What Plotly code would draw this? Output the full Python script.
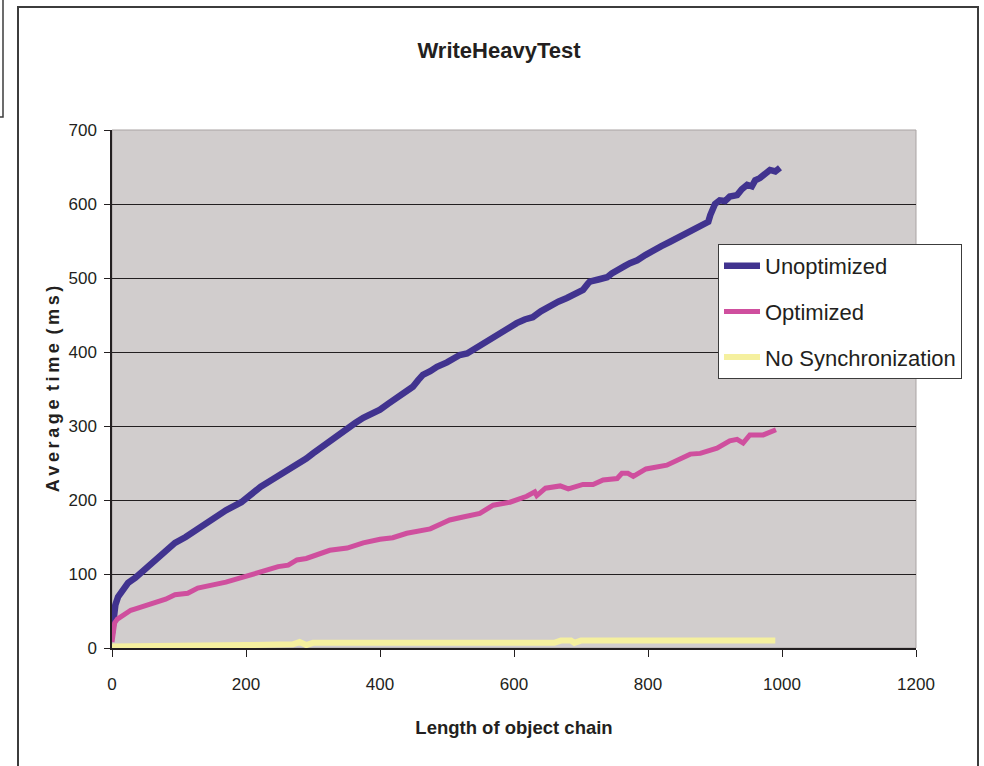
import plotly.graph_objects as go

# ---- data ----
unopt_x = [0, 2, 5, 9, 15, 24, 35, 43, 55, 69, 80, 94, 110, 124, 140, 154, 170, 193, 208, 222,
           240, 258, 276, 290, 300, 312, 325, 338, 351, 363, 375, 388, 400, 412, 425, 437, 449,
           457, 464, 475, 485, 500, 519, 530, 542, 554, 566, 579, 591, 604, 616, 628, 640, 654,
           666, 679, 690, 703, 710, 713, 726, 739, 746, 754, 765, 773, 784, 796, 808, 820, 833,
           845, 858, 870, 880, 890, 893, 896, 900, 907, 915, 922, 933, 940, 948, 955, 960, 967,
           975, 982, 990, 997]
unopt_y = [20, 45, 58, 69, 78, 88, 95, 101, 111, 123, 131, 142, 150, 159, 168, 177, 186, 197, 208, 218,
           228, 238, 247, 256, 263, 271, 281, 289, 297, 304, 311, 316, 322, 330, 338, 345, 353,
           362, 369, 374, 380, 386, 396, 398, 405, 412, 419, 426, 432, 439, 444, 447, 455, 463,
           468, 473, 478, 484, 492, 495, 498, 501, 506, 511, 516, 520, 524, 531, 538, 543, 549,
           555, 562, 568, 572, 576, 585, 595, 600, 605, 604, 610, 612, 620, 626, 624, 632, 635,
           640, 646, 644, 649]

opt_x = [0, 1, 4, 8, 13, 20, 28, 35, 43, 55, 69, 80, 94, 105, 113, 128, 140, 154, 170, 193, 208,
         222, 236, 248, 263, 276, 290, 300, 315, 325, 351, 375, 400, 419, 440, 460, 475, 494, 504,
         524, 549, 569, 594, 619, 631, 634, 647, 669, 681, 703, 718, 733, 754, 761, 770, 778, 797,
         828, 852, 863, 878, 903, 922, 933, 942, 952, 972, 982, 991]
opt_y = [8, 20, 34, 39, 42, 47, 51, 53, 55, 58, 62, 66, 72, 73, 74, 81, 83, 85, 89, 95, 99,
         103, 107, 110, 112, 119, 121, 124, 128, 132, 135, 142, 147, 149, 155, 159, 161, 169, 173,
         177, 182, 193, 197, 205, 211, 206, 216, 219, 215, 221, 221, 227, 229, 236, 236, 232, 242,
         247, 258, 262, 263, 270, 280, 282, 277, 288, 288, 292, 295]

nosync_x = [0, 10, 24, 30, 100, 200, 270, 280, 290, 300, 400, 500, 600, 660, 670, 685, 690, 700,
            800, 900, 990]
nosync_y = [2, 2, 2, 4, 4, 4, 5, 8, 4, 7, 7, 7, 7, 7, 10, 10, 7, 10, 10, 10, 10]

x_ticks = [0, 200, 400, 600, 800, 1000, 1200]
y_ticks = [0, 100, 200, 300, 400, 500, 600, 700]

FONT = "Liberation Sans, Arial, sans-serif"
INK = "#231f20"
TS = "\u2009"   # thin space for the letter-spaced axis title
NB = "\u00a0\u2009"  # word gap
y_title = NB.join(TS.join(w) for w in ["Average", "time", "(ms)"])

fig = go.Figure()
fig.add_trace(go.Scatter(x=unopt_x, y=unopt_y, mode="lines", name="Unoptimized",
                         line=dict(color="#41338f", width=6.5), legendgroup="a"))
fig.add_trace(go.Scatter(x=opt_x, y=opt_y, mode="lines", name="Optimized",
                         line=dict(color="#cf4f9e", width=5), legendgroup="b"))
fig.add_trace(go.Scatter(x=nosync_x, y=nosync_y, mode="lines", name="No Synchronization",
                         line=dict(color="#f5f09f", width=6), legendgroup="c"))

# outer frame and partial box at top-left
fig.add_shape(type="rect", xref="paper", yref="paper",
              x0=(18 - 112) / 804, x1=(978 - 112) / 804,
              y0=(648 - 775) / 518, y1=(648 - 7) / 518,
              line=dict(color="#3c3c3c", width=2), fillcolor="rgba(0,0,0,0)", layer="below")
fig.add_shape(type="rect", xref="paper", yref="paper",
              x0=(-10 - 112) / 804, x1=(3 - 112) / 804,
              y0=(648 - 117) / 518, y1=(648 + 10) / 518,
              line=dict(color="#3c3c3c", width=1.5), fillcolor="rgba(0,0,0,0)", layer="below")
# right/top edge of plot area
fig.add_shape(type="rect", xref="paper", yref="paper", x0=0, x1=1, y0=0, y1=1,
              line=dict(color="#a9a3a3", width=1), fillcolor="rgba(0,0,0,0)", layer="below")

fig.update_layout(
    width=984, height=766,
    margin=dict(l=112, r=68, t=130, b=118, autoexpand=False),
    paper_bgcolor="white",
    plot_bgcolor="#d1cdcd",
    title=dict(text="<b>WriteHeavyTest</b>", x=499 / 984, xref="container", xanchor="center",
               y=1 - 50 / 766, yanchor="middle",
               font=dict(family=FONT, size=22, color=INK)),
    showlegend=True,
    legend=dict(x=(718 - 112) / 804, y=(648 - 244) / 518, xanchor="left", yanchor="top",
                bgcolor="white", bordercolor="#3c3c3c", borderwidth=1,
                font=dict(family=FONT, size=22, color=INK),
                tracegroupgap=14, itemwidth=36),
    xaxis=dict(range=[0, 1200], tickvals=x_ticks, ticktext=[str(v) for v in x_ticks],
               showgrid=False, zeroline=False, showline=True, linecolor=INK, linewidth=1.5,
               ticks="outside", ticklen=7, tickcolor=INK, ticklabelstandoff=13,
               tickfont=dict(family=FONT, size=17, color=INK),
               title=dict(text="<b>Length of object chain</b>", standoff=28,
                          font=dict(family=FONT, size=18.5, color=INK))),
    yaxis=dict(range=[0, 700], tickvals=y_ticks, ticktext=[str(v) for v in y_ticks],
               showgrid=True, gridcolor=INK, gridwidth=1, zeroline=False,
               showline=True, linecolor=INK, linewidth=1.5,
               ticks="outside", ticklen=6, tickcolor=INK, ticklabelstandoff=4,
               tickfont=dict(family=FONT, size=17, color=INK),
               title=dict(text="<b>" + y_title + "</b>", standoff=4,
                          font=dict(family=FONT, size=18, color=INK))),
)

fig.write_html("out.html")
